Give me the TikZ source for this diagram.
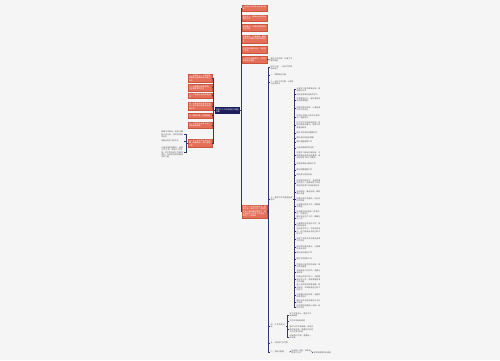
\documentclass[tikz,border=0pt]{standalone}
\usepackage{fontspec}
\newfontfamily\cjk{Noto Sans CJK SC}
\XeTeXlinebreaklocale "zh"
\XeTeXlinebreakskip=0pt plus 1pt
\definecolor{bg}{HTML}{F5F5F5}
\definecolor{of}{HTML}{E5705A}
\definecolor{ob}{HTML}{C9553F}
\definecolor{nv}{HTML}{1C1E5C}
\definecolor{ln}{HTML}{33366A}
\definecolor{tx}{HTML}{555555}
\newcommand\ft{\cjk\fontsize{1.9}{2.3}\selectfont}
\tikzset{
 obox/.style={draw=ob, line width=0.3pt, fill=of, text=white, font=\ft, text width=22pt, inner sep=0.7pt, align=left},
 rbox/.style={obox, text width=23.6pt},
 leaf/.style={text=tx, font=\ft, inner sep=0.5pt, align=left, anchor=west, text width=24pt},
 leafr/.style={text=tx, font=\ft, inner sep=0.5pt, align=left, anchor=east, text width=22pt},
 conn/.style={draw=ln, line width=0.55pt},
}
\begin{document}
\begin{tikzpicture}[x=1pt,y=-1pt]
\fill[bg] (0,0) rectangle (500,360);
\useasboundingbox (0,0) rectangle (500,360);
% central
\node[fill=nv, text=white, font=\ft, text width=23pt, inner sep=1pt, minimum height=7pt, align=left] (C) at (227.5,110.5) {年度个人工作总结范文精选\\合集};
% left boxes
\node[obox, minimum height=8pt] (L1) at (200,78) {一、加强学习，不断提高思想政治素质和业务能力水平};
\node[obox, minimum height=7pt] (L2) at (200,87.5) {二、认真履行岗位职责，扎实做好各项工作};
\node[obox, minimum height=5pt] (L3) at (200,95.5) {三、严格遵守各项规章制度};
\node[obox, minimum height=8pt] (L4) at (200,106) {四、积极参加各类培训活动，努力提升自身专业技能水平};
\node[obox, minimum height=5pt] (L5) at (200,115.5) {五、团结同事，互相帮助};
\node[obox, minimum height=6pt] (L6) at (200,125) {六、工作中存在的不足之处及改进措施};
\node[obox, minimum height=8pt] (L7) at (200,143) {七、下一步工作计划与打算，明确目标，努力做好工作};
\foreach \n in {L1,L2,L3,L4,L5,L6,L7} \draw[conn] (C.west) -- ++(-2,0) |- (\n.east);
% left leaves of L7
\node[leafr] (T1) at (184,134.5) {明确工作目标，制定详细的工作计划，按时完成各项任务};
\node[leafr] (T2) at (184,141) {加强业务学习和交流};
\node[leafr] (T3) at (184,152.5) {认真总结经验教训，改进工作方法，提高工作效率，努力把各项工作做得更好，为单位发展贡献自己的力量};
\foreach \n in {T1,T2,T3} \draw[conn] (L7.west) -- ++(-2,0) |- (\n.east);
% right boxes
\node[rbox, minimum height=6pt] (R1) at (254.5,8) {一年来的工作情况总结与回顾};
\node[rbox, minimum height=6pt] (R2) at (254.5,18) {坚持学习，提高自身的政治理论水平};
\node[rbox, minimum height=7pt] (R3) at (254.5,27.5) {爱岗敬业，认真完成领导交办的工作};
\node[rbox, minimum height=8pt] (R4) at (254.5,39) {注重细节，严谨细致，确保各项工作顺利开展并取得实效};
\node[rbox, minimum height=7pt] (R5) at (254.5,49.5) {存在的问题和不足，今后努力方向};
\node[rbox, minimum height=7.5pt] (R6) at (254.5,59.5) {个人工作总结范文：工作中的收获与体会};
\node[rbox, minimum height=13pt] (R7) at (254.5,211.5) {年度个人工作总结范文：回顾过去一年的工作，在领导的关心和同事的帮助下，我认真完成了各项工作任务，取得了一定成绩};
\foreach \n in {R1,R2,R3,R4,R5,R6,R7} \draw[conn] (C.east) -- ++(1,0) |- (\n.west);
% R6 child
\node[leaf, text width=22pt] (R6a) at (270,60) {通过工作实践，积累了丰富的经验};
\draw[conn] (R6.east) -- (R6a.west);
% R7 children
\node[leaf, text width=22pt] (c1) at (270,67.5) {时光飞逝，一年的工作即将结束了};
\node[leaf, text width=22pt] (c2) at (270,75) {一、思想政治方面};
\node[leaf, text width=23pt] (c3) at (270,82.5) {二、业务工作方面，认真学习业务知识};
\node[leaf, text width=22pt] (c4) at (270,199) {三、具体工作内容及完成情况};
\node[leaf, text width=15pt] (c5) at (270,326) {四、工作中的不足};
\node[leaf, text width=19pt] (c6) at (270,343) {五、今后的工作打算};
\node[leaf, text width=18pt] (c7) at (270,352) {六、总结与展望};
\foreach \n in {c1,c2,c3,c4,c5,c6,c7} \draw[conn] (R7.east) -- ++(1,0) |- (\n.west);
% c4 children
\foreach \i/\y/\t in {
d1/89.5/{认真学习各项政策法规，提高理论水平},
d2/94.5/{积极参加单位组织的学习},
d3/100/{严格要求自己，遵守单位的各项规章制度},
d4/108.5/{按照领导的安排，认真完成日常工作任务},
d5/117/{加强与同事之间的沟通交流，团结协作},
d6/125/{在工作中不断总结经验，发现问题及时解决，提高工作质量和效率},
d7/133/{做好文件资料的整理工作},
d8/138/{做好会议的组织筹备},
d9/142/{做好后勤保障工作},
d10/148/{认真完成临时性任务},
d11/155.5/{注重学习新知识新技能，不断提高自身的综合素质，适应新形势下的工作要求},
d12/164/{完成各项统计报表工作},
d13/170/{做好档案管理工作},
d14/175/{积极参与各项活动},
d15/183/{在领导的带领下，全体同事共同努力，圆满完成了年初制定的各项工作目标和任务},
d16/192.5/{坚持原则，廉洁自律，做到秉公办事},
d17/199.5/{加强自身作风建设，树立良好的形象},
d18/206/{认真做好服务工作，提高服务质量},
d19/212.5/{积极配合其他部门开展工作，形成合力},
d20/218/{做好安全生产工作，确保万无一失},
d21/224.5/{认真做好信息宣传工作，及时报送信息},
d22/231.5/{坚持每天学习，不断充实自己，努力提高业务能力和工作水平},
d23/239.5/{完成了领导交办的其他各项工作任务},
d24/247.5/{按时参加各类会议，认真做好会议记录},
d25/252.5/{做好来访接待工作},
d26/259/{做好文件收发工作},
d27/265.5/{严格执行各项财务制度，规范财务管理},
d28/272/{不断改进工作作风，提高办事效率},
d29/279.5/{加强业务知识学习，不断提高业务水平，熟练掌握各项工作流程},
d30/287.5/{虚心向领导和同事请教，取长补短，不断提高自己的工作能力},
d31/295.5/{认真履行岗位职责，全面完成各项任务},
d32/302/{做好年终总结和来年计划工作安排},
d33/307/{以饱满的热情投入到新一年的工作中}}
{\node[leaf] (\i) at (296,\y) {\t};
 \draw[conn] (c4.east) -- ++(1,0) |- (\i.west);}
% c5 children
\foreach \i/\y/\w/\t in {
e1/315/22/{学习不够深入，理论水平有待提高},
e2/321/22/{工作方法有待改进},
e3/329.5/24/{有时工作不够细致，考虑问题不够全面，需要在今后的工作中加以改进},
e4/337/22/{创新意识不强，需要进一步加强}}
{\node[leaf, text width=\w pt] (\i) at (289,\y) {\t};
 \draw[conn] (c5.east) -- ++(1,0) |- (\i.west);}
% c7 chain
\node[leaf, text width=19pt] (f1) at (291,351.5) {在新的一年里，我将继续努力工作};
\node[leaf, text width=25pt] (f2) at (313,353) {争取取得更好的成绩};
\draw[conn] (c7.east) -- (f1.west);
\draw[conn] (f1.east) -- (f2.west);
\end{tikzpicture}
\end{document}
